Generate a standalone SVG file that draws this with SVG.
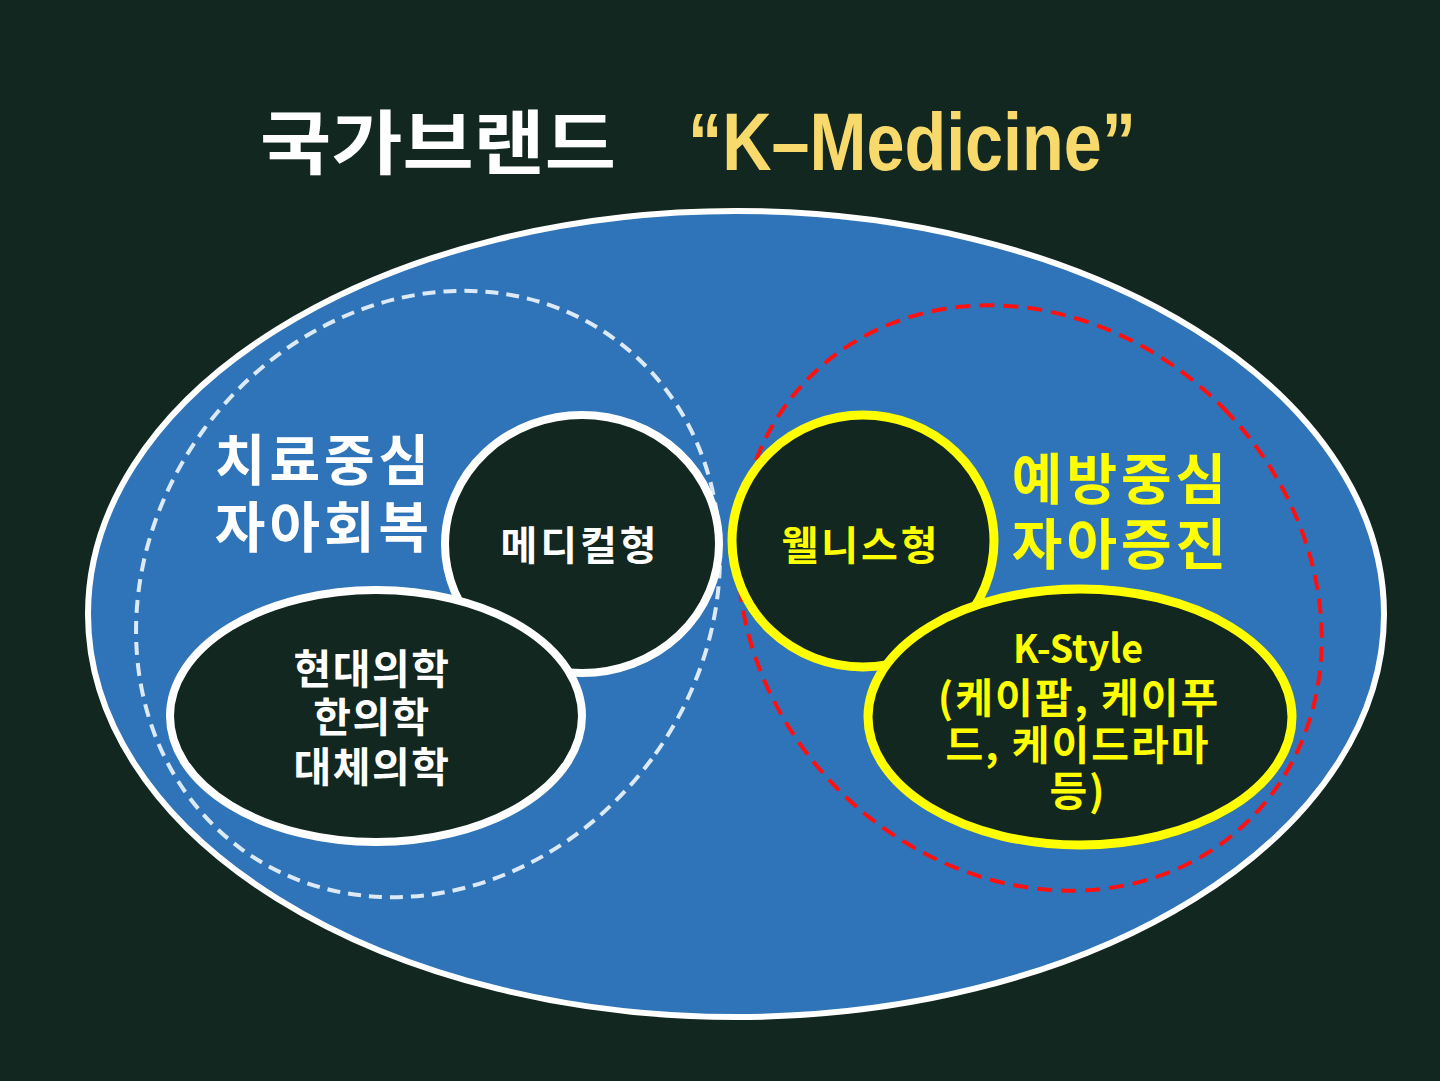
<svg xmlns="http://www.w3.org/2000/svg" width="1440" height="1081" viewBox="0 0 1440 1081">
<style>
.kr{font-family:"Noto Sans CJK KR","Noto Sans",sans-serif;font-weight:bold;text-anchor:middle}
.w{fill:#ffffff}
.y{fill:#ffff00}
.node{fill:#11271f}
.wn{stroke:#ffffff;stroke-width:8}
.yn{stroke:#ffff00;stroke-width:9}
</style>
<rect x="0" y="0" width="1440" height="1081" fill="#11271f"/>
<g id="title">
<text class="kr w" x="438" y="169" font-size="70" textLength="356" lengthAdjust="spacingAndGlyphs">국가브랜드</text>
<text x="912" y="170" font-family="'Liberation Sans',Arial,sans-serif" font-weight="bold" font-size="81" fill="#f8d96c" text-anchor="middle" textLength="448" lengthAdjust="spacingAndGlyphs">“K–Medicine”</text>
</g>
<g id="brand">
<ellipse cx="736" cy="614" rx="648" ry="403" fill="#2f74b8" stroke="#ffffff" stroke-width="6"/>
</g>
<g id="treatment-zone">
<ellipse cx="428" cy="594" rx="278" ry="316" transform="rotate(36.4 428 594)" fill="none" stroke="#dce9f7" stroke-width="4" stroke-dasharray="13 8"/>
<text class="kr w" x="324" y="480" font-size="55" letter-spacing="4">치료중심</text>
<text class="kr w" x="324" y="547" font-size="55" letter-spacing="4">자아회복</text>
</g>
<g id="prevention-zone">
<ellipse cx="1030" cy="598" rx="271" ry="312" transform="rotate(-44.3 1030 598)" fill="none" stroke="#ff1010" stroke-width="4" stroke-dasharray="15 9"/>
<text class="kr y" x="1121" y="499" font-size="55" letter-spacing="4">예방중심</text>
<text class="kr y" x="1121" y="564" font-size="55" letter-spacing="4">자아증진</text>
</g>
<g id="medical">
<ellipse class="node wn" cx="582" cy="544" rx="137" ry="129"/>
<text class="kr w" x="580" y="560" font-size="40" letter-spacing="3">메디컬형</text>
</g>
<g id="medicine">
<ellipse class="node wn" cx="376" cy="716" rx="206" ry="126"/>
<text class="kr w" x="372" y="684" font-size="41" letter-spacing="1.5">현대의학</text>
<text class="kr w" x="372" y="732" font-size="41" letter-spacing="1.5">한의학</text>
<text class="kr w" x="372" y="782" font-size="41" letter-spacing="1.5">대체의학</text>
</g>
<g id="wellness">
<ellipse class="node yn" cx="863" cy="541" rx="131" ry="126"/>
<text class="kr y" x="861" y="560" font-size="40" letter-spacing="3">웰니스형</text>
</g>
<g id="kstyle">
<ellipse class="node yn" cx="1080" cy="717" rx="212" ry="128"/>
<text class="kr y" x="1078" y="663" font-size="39" textLength="130" lengthAdjust="spacingAndGlyphs">K-Style</text>
<text class="kr y" x="1079" y="713" font-size="41" letter-spacing="2">(케이팝, 케이푸</text>
<text class="kr y" x="1078" y="760" font-size="41" letter-spacing="2">드, 케이드라마</text>
<text class="kr y" x="1078" y="806" font-size="41" letter-spacing="2">등)</text>
</g>
<g id="connectors"></g>
</svg>
